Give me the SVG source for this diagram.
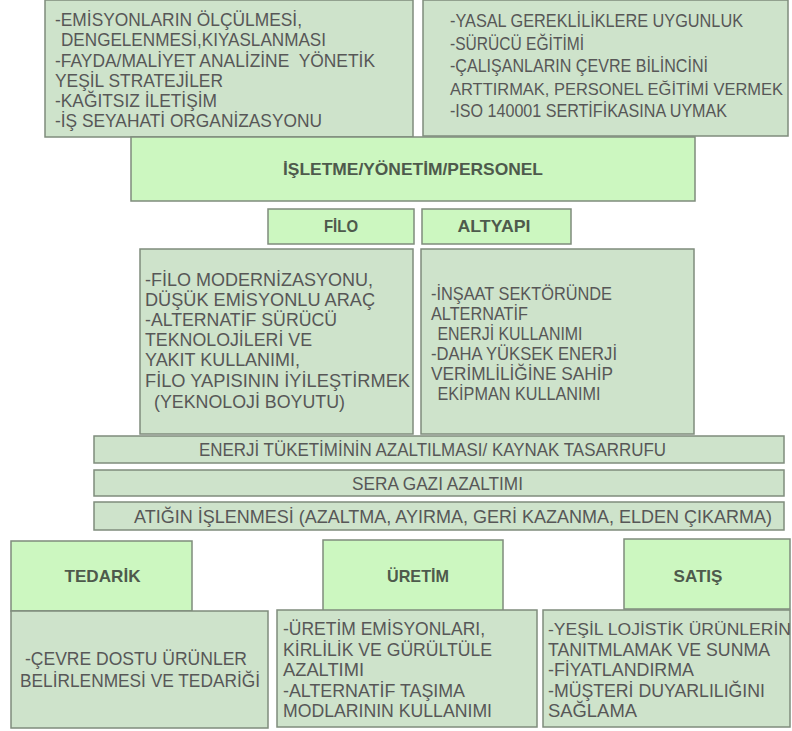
<svg xmlns="http://www.w3.org/2000/svg" width="792" height="731" viewBox="0 0 792 731">
<style>
.hd{fill:#ccf7c0;stroke:#7f8c7c;stroke-width:1.5}
.ct{fill:#cee3cb;stroke:#7f8c7c;stroke-width:1.5}
text{font-family:"Liberation Sans",Arial,sans-serif;fill:#575757;font-size:18.5px}
.s{font-size:17.5px}
.xs{font-size:16.5px}
.b{font-weight:bold;fill:#4e5a4c;font-size:17px;text-anchor:middle}
.m{text-anchor:middle}
</style>
<rect width="792" height="731" fill="#ffffff"/>
<g id="top-left">
<rect class="ct" x="45" y="0" width="368" height="137"/>
<text x="55" y="26" textLength="247" lengthAdjust="spacingAndGlyphs">-EMİSYONLARIN ÖLÇÜLMESİ,</text>
<text x="61" y="46" textLength="265" lengthAdjust="spacingAndGlyphs">DENGELENMESİ,KIYASLANMASI</text>
<text x="55" y="66.5" textLength="320" lengthAdjust="spacingAndGlyphs" xml:space="preserve">-FAYDA/MALİYET ANALİZİNE  YÖNETİK</text>
<text x="55" y="86.5" textLength="168" lengthAdjust="spacingAndGlyphs">YEŞİL STRATEJİLER</text>
<text x="55" y="107" textLength="162" lengthAdjust="spacingAndGlyphs">-KAĞITSIZ İLETİŞİM</text>
<text x="55" y="127" textLength="267" lengthAdjust="spacingAndGlyphs">-İŞ SEYAHATİ ORGANİZASYONU</text>
</g>
<g id="top-right">
<rect class="ct" x="423" y="0" width="365" height="136"/>
<text x="450" y="27" textLength="293" lengthAdjust="spacingAndGlyphs">-YASAL GEREKLİLİKLERE UYGUNLUK</text>
<text x="450" y="49.5" textLength="134" lengthAdjust="spacingAndGlyphs">-SÜRÜCÜ EĞİTİMİ</text>
<text x="450" y="72" textLength="258" lengthAdjust="spacingAndGlyphs">-ÇALIŞANLARIN ÇEVRE BİLİNCİNİ</text>
<text class="xs" x="450" y="94.5" textLength="333" lengthAdjust="spacingAndGlyphs">ARTTIRMAK, PERSONEL EĞİTİMİ VERMEK</text>
<text x="450" y="117" textLength="277" lengthAdjust="spacingAndGlyphs">-ISO 140001 SERTİFİKASINA UYMAK</text>
</g>
<g id="isletme">
<rect class="hd" x="131" y="137" width="564" height="64"/>
<text class="b" x="413" y="175" textLength="260" lengthAdjust="spacingAndGlyphs">İŞLETME/YÖNETİM/PERSONEL</text>
</g>
<g id="filo">
<rect class="hd" x="268" y="209" width="146" height="35"/>
<text class="b" x="341" y="232" textLength="34" lengthAdjust="spacingAndGlyphs">FİLO</text>
</g>
<g id="altyapi">
<rect class="hd" x="422" y="209" width="149" height="35"/>
<text class="b" x="494" y="232" textLength="73" lengthAdjust="spacingAndGlyphs">ALTYAPI</text>
</g>
<g id="filo-detay">
<rect class="ct" x="140" y="249" width="273" height="185"/>
<text class="s" x="145" y="286" textLength="228" lengthAdjust="spacingAndGlyphs">-FİLO MODERNİZASYONU,</text>
<text class="s" x="145" y="306" textLength="230" lengthAdjust="spacingAndGlyphs">DÜŞÜK EMİSYONLU ARAÇ</text>
<text class="s" x="145" y="326" textLength="192" lengthAdjust="spacingAndGlyphs">-ALTERNATİF SÜRÜCÜ</text>
<text class="s" x="145" y="346" textLength="167" lengthAdjust="spacingAndGlyphs">TEKNOLOJİLERİ VE</text>
<text class="s" x="145" y="366" textLength="155" lengthAdjust="spacingAndGlyphs">YAKIT KULLANIMI,</text>
<text class="s" x="145" y="387" textLength="265" lengthAdjust="spacingAndGlyphs">FİLO YAPISININ İYİLEŞTİRMEK</text>
<text class="s" x="154" y="408" textLength="191" lengthAdjust="spacingAndGlyphs">(YEKNOLOJİ BOYUTU)</text>
</g>
<g id="altyapi-detay">
<rect class="ct" x="421" y="249" width="273" height="185"/>
<text class="s" x="431" y="300" textLength="181" lengthAdjust="spacingAndGlyphs">-İNŞAAT SEKTÖRÜNDE</text>
<text class="s" x="431" y="320" textLength="97" lengthAdjust="spacingAndGlyphs">ALTERNATİF</text>
<text class="s" x="437.5" y="340" textLength="145" lengthAdjust="spacingAndGlyphs">ENERJİ KULLANIMI</text>
<text class="s" x="431" y="360" textLength="186" lengthAdjust="spacingAndGlyphs">-DAHA YÜKSEK ENERJİ</text>
<text class="s" x="431" y="380" textLength="182" lengthAdjust="spacingAndGlyphs">VERİMLİLİĞİNE SAHİP</text>
<text class="s" x="437.5" y="400" textLength="163" lengthAdjust="spacingAndGlyphs">EKİPMAN KULLANIMI</text>
</g>
<g id="enerji">
<rect class="ct" x="94" y="436" width="690" height="27"/>
<text class="m s" x="432.5" y="456" textLength="467" lengthAdjust="spacingAndGlyphs">ENERJİ TÜKETİMİNİN AZALTILMASI/ KAYNAK TASARRUFU</text>
</g>
<g id="sera">
<rect class="ct" x="94" y="470" width="690" height="26"/>
<text class="m s" x="437.5" y="490" textLength="171" lengthAdjust="spacingAndGlyphs">SERA GAZI AZALTIMI</text>
</g>
<g id="atik">
<rect class="ct" x="94" y="502" width="690" height="28"/>
<text class="m" x="453" y="523" textLength="638" lengthAdjust="spacingAndGlyphs">ATIĞIN İŞLENMESİ (AZALTMA, AYIRMA, GERİ KAZANMA, ELDEN ÇIKARMA)</text>
</g>
<g id="tedarik">
<rect class="hd" x="11" y="541" width="181" height="70"/>
<text class="b" x="102.5" y="582" textLength="76" lengthAdjust="spacingAndGlyphs">TEDARİK</text>
</g>
<g id="uretim">
<rect class="hd" x="323" y="540" width="180" height="71"/>
<text class="b" x="418" y="582" textLength="62" lengthAdjust="spacingAndGlyphs">ÜRETİM</text>
</g>
<g id="satis">
<rect class="hd" x="624" y="539" width="166" height="70"/>
<text class="b" x="698" y="582" textLength="49" lengthAdjust="spacingAndGlyphs">SATIŞ</text>
</g>
<g id="tedarik-detay">
<rect class="ct" x="11" y="611" width="257" height="117"/>
<text class="m s" x="136" y="665" textLength="222" lengthAdjust="spacingAndGlyphs">-ÇEVRE DOSTU ÜRÜNLER</text>
<text class="m s" x="140" y="687" textLength="240" lengthAdjust="spacingAndGlyphs">BELİRLENMESİ VE TEDARİĞİ</text>
</g>
<g id="uretim-detay">
<rect class="ct" x="277" y="610" width="260" height="117"/>
<text class="s" x="283" y="635" textLength="202" lengthAdjust="spacingAndGlyphs">-ÜRETİM EMİSYONLARI,</text>
<text class="s" x="283" y="655.5" textLength="209" lengthAdjust="spacingAndGlyphs">KİRLİLİK VE GÜRÜLTÜLE</text>
<text class="s" x="283" y="676" textLength="81" lengthAdjust="spacingAndGlyphs">AZALTIMI</text>
<text class="s" x="283" y="696.5" textLength="182" lengthAdjust="spacingAndGlyphs">-ALTERNATİF TAŞIMA</text>
<text class="s" x="283" y="717" textLength="209" lengthAdjust="spacingAndGlyphs">MODLARININ KULLANIMI</text>
</g>
<g id="satis-detay">
<rect class="ct" x="543" y="610" width="247" height="117"/>
<text class="xs" x="548" y="635" textLength="243" lengthAdjust="spacingAndGlyphs">-YEŞİL LOJİSTİK ÜRÜNLERİN</text>
<text class="s" x="548" y="655.5" textLength="222" lengthAdjust="spacingAndGlyphs">TANITMLAMAK VE SUNMA</text>
<text class="s" x="548" y="676" textLength="146" lengthAdjust="spacingAndGlyphs">-FİYATLANDIRMA</text>
<text class="s" x="548" y="696.5" textLength="217" lengthAdjust="spacingAndGlyphs">-MÜŞTERİ DUYARLILIĞINI</text>
<text class="s" x="548" y="717" textLength="89" lengthAdjust="spacingAndGlyphs">SAĞLAMA</text>
</g>
<g id="connectors"/>
</svg>
